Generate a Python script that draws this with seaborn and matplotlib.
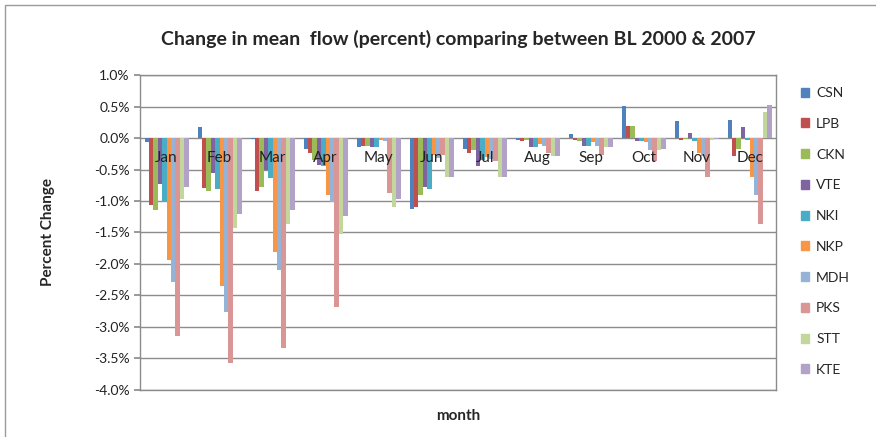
import matplotlib.pyplot as plt
import matplotlib.patches as mpatches
import pandas as pd
import seaborn as sns
from matplotlib.ticker import FuncFormatter, MultipleLocator

sns.set_theme(style="white")
plt.rcParams["font.family"] = ["Lato", "DejaVu Sans"]

months = ['Jan', 'Feb', 'Mar', 'Apr', 'May', 'Jun', 'Jul', 'Aug', 'Sep', 'Oct', 'Nov', 'Dec']
stations = ['CSN', 'LPB', 'CKN', 'VTE', 'NKI', 'NKP', 'MDH', 'PKS', 'STT', 'KTE']

csn = [-0.07, 0.18, -0.02, -0.17, -0.14, -1.12, -0.18, -0.03, 0.06, 0.51, 0.27, 0.29]
lpb = [-1.06, -0.79, -0.84, -0.24, -0.12, -1.09, -0.24, -0.05, -0.03, 0.20, -0.03, -0.28]
ckn = [-1.14, -0.84, -0.78, -0.35, -0.13, -0.90, -0.19, -0.03, -0.05, 0.20, -0.02, -0.17]
vte = [-0.73, -0.55, -0.50, -0.42, -0.14, -0.78, -0.45, -0.14, -0.12, -0.04, 0.08, 0.18]
nki = [-1.01, -0.81, -0.64, -0.45, -0.14, -0.81, -0.35, -0.14, -0.12, -0.05, -0.04, -0.03]
nkp = [-1.94, -2.35, -1.81, -0.90, -0.03, -0.27, -0.30, -0.09, -0.07, -0.07, -0.24, -0.62]
mdh = [-2.29, -2.77, -2.09, -1.01, -0.05, -0.31, -0.34, -0.12, -0.12, -0.19, -0.28, -0.90]
pks = [-3.15, -3.58, -3.34, -2.68, -0.88, -0.27, -0.36, -0.24, -0.27, -0.36, -0.62, -1.36]
stt = [-0.97, -1.43, -1.36, -1.52, -1.09, -0.62, -0.62, -0.29, -0.14, -0.19, -0.03, 0.41]
kte = [-0.78, -1.20, -1.14, -1.24, -0.97, -0.62, -0.62, -0.28, -0.14, -0.17, -0.01, 0.53]

colors = ['#4F81BD', '#C0504D', '#9BBB59', '#8064A2', '#4BACC6',
          '#F79646', '#95B3D7', '#D99694', '#C3D69B', '#B3A2C7']

series = [csn, lpb, ckn, vte, nki, nkp, mdh, pks, stt, kte]
rows = []
for name, vals in zip(stations, series):
    for m, v in zip(months, vals):
        rows.append({"month": m, "station": name, "value": v})
df = pd.DataFrame(rows)

fig = plt.figure(figsize=(8.76, 4.37), dpi=100)
ax = fig.add_axes([0.160, 0.108, 0.726, 0.72])

sns.barplot(data=df, x="month", y="value", hue="station", order=months,
            hue_order=stations, palette=colors, width=0.83, linewidth=0,
            saturation=1, ax=ax, legend=False)

grid_col = '#8c8c8c'
ax.set_ylim(-4.0, 1.0)
ax.yaxis.set_major_locator(MultipleLocator(0.5))
ax.yaxis.set_major_formatter(FuncFormatter(lambda x, _: f'{x:.1f}%'))
ax.yaxis.grid(True, color=grid_col, linewidth=1)
ax.set_axisbelow(True)
for s in ax.spines.values():
    s.set_color(grid_col)
    s.set_linewidth(1)
ax.tick_params(axis='y', labelsize=10, colors='#222222', length=4, left=True, color=grid_col)
ax.tick_params(axis='x', length=0)
ax.set_xticklabels([])
ax.set_xlim(-0.5, len(months) - 0.5)

# month labels sit next to the zero line, like Excel
for i, m in enumerate(months):
    ax.annotate(m, xy=(i, 0), xytext=(0, -14), textcoords='offset points',
                ha='center', va='center', fontsize=11, color='#222222')

ax.set_xlabel("month", fontsize=11, fontweight='bold', labelpad=10)
ax.set_ylabel("Percent Change", fontsize=11, fontweight='bold', labelpad=28)
ax.set_title("Change in mean  flow (percent) comparing between BL 2000 & 2007",
             fontsize=14, fontweight='bold', pad=22)

handles = [mpatches.Patch(color=c, label=s) for c, s in zip(colors, stations)]
ax.legend(handles=handles, loc='upper left', bbox_to_anchor=(1.03, 0.98),
          frameon=False, fontsize=10, handlelength=0.6, handleheight=0.6,
          handletextpad=0.5, labelspacing=1.35, borderaxespad=0)

fig.patches.append(mpatches.Rectangle((5 / 876, -0.1), 1.1, 1 - 5 / 437 + 0.1,
                                      transform=fig.transFigure, fill=False,
                                      edgecolor='#9a9a9a', linewidth=1))

fig.savefig("out.png", dpi=100)
